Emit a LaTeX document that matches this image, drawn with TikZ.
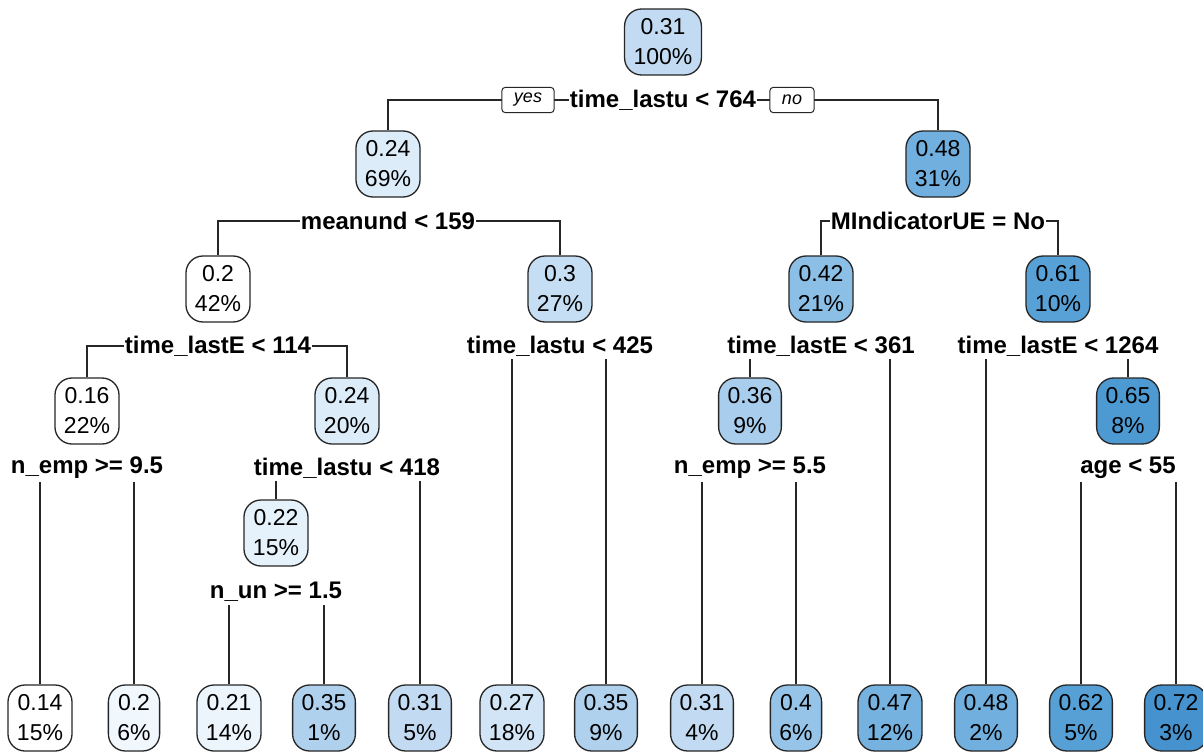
\documentclass[tikz,border=0pt]{standalone}
\usepackage{fontspec}
\setmainfont{Liberation Sans}
\usepackage{xcolor}
\usepackage{tikz}
\usetikzlibrary{backgrounds}
\definecolor{v14}{HTML}{FFFFFF}
\definecolor{v20}{HTML}{F0F7FD}
\definecolor{v21}{HTML}{ECF5FC}
\definecolor{v22}{HTML}{E6F2FB}
\definecolor{v24}{HTML}{DCECF9}
\definecolor{v27}{HTML}{D2E5F6}
\definecolor{v30}{HTML}{C6DEF3}
\definecolor{v31}{HTML}{C2DBF2}
\definecolor{v35}{HTML}{B0D1EE}
\definecolor{v36}{HTML}{A9CDEC}
\definecolor{v40}{HTML}{96C4E8}
\definecolor{v42}{HTML}{8CBFE6}
\definecolor{v47}{HTML}{75B2E0}
\definecolor{v48}{HTML}{71AFDF}
\definecolor{v61}{HTML}{58A1D7}
\definecolor{v62}{HTML}{56A0D6}
\definecolor{v65}{HTML}{4D9AD3}
\definecolor{v72}{HTML}{4592CE}
\tikzset{
  box/.style={draw=black!85, line width=1.3pt, fill=#1, rounded corners=17pt,
    minimum height=66pt, inner xsep=9pt, align=center,
    font=\fontsize{23}{30}\selectfont},
  split/.style={fill=white, inner xsep=1pt, inner ysep=3pt,
    font=\bfseries\fontsize{24}{28}\selectfont},
  answer/.style={draw=black!85, line width=1pt, fill=white, rounded corners=3pt,
    inner xsep=12pt, minimum height=25pt, font=\itshape\fontsize{18}{20}\selectfont},
  edge/.style={draw=black!85, line width=1.3pt}
}
\begin{document}
\begin{tikzpicture}[x=1pt,y=-1pt]
  \useasboundingbox (0,0) rectangle (1203,752);

  % inner nodes
  \node[box=v31] (root) at (663,42) {0.31\\100\%};
  \node[box=v24] (n2) at (388,164) {0.24\\69\%};
  \node[box=v48] (n3) at (938,164) {0.48\\31\%};
  \node[box=v14] (n4) at (218,289) {0.2\\42\%};
  \node[box=v30] (n5) at (560,289) {0.3\\27\%};
  \node[box=v42] (n6) at (821,289) {0.42\\21\%};
  \node[box=v61] (n7) at (1058,289) {0.61\\10\%};
  \node[box=v14] (n8) at (87,411) {0.16\\22\%};
  \node[box=v24] (n9) at (347,411) {0.24\\20\%};
  \node[box=v36] (n13) at (750,411) {0.36\\9\%};
  \node[box=v65] (n15) at (1128,411) {0.65\\8\%};
  \node[box=v22] (n18) at (276,533) {0.22\\15\%};

  % leaves
  \node[box=v14] (l1) at (40,718) {0.14\\15\%};
  \node[box=v20] (l2) at (134,718) {0.2\\6\%};
  \node[box=v21] (l3) at (229,718) {0.21\\14\%};
  \node[box=v35] (l4) at (324,718) {0.35\\1\%};
  \node[box=v31] (l5) at (420,718) {0.31\\5\%};
  \node[box=v27] (l6) at (512,718) {0.27\\18\%};
  \node[box=v35] (l7) at (606,718) {0.35\\9\%};
  \node[box=v31] (l8) at (702,718) {0.31\\4\%};
  \node[box=v40] (l9) at (796,718) {0.4\\6\%};
  \node[box=v47] (l10) at (890,718) {0.47\\12\%};
  \node[box=v48] (l11) at (986,718) {0.48\\2\%};
  \node[box=v62] (l12) at (1081,718) {0.62\\5\%};
  \node[box=v72] (l13) at (1176,718) {0.72\\3\%};

  % split labels
  \node[split] (s0) at (663,100) {time\_lastu < 764};
  \node[answer] (yes) at (528,100) {yes};
  \node[answer] (no) at (792,100) {no};
  \node[split] (s2) at (388,221) {meanund < 159};
  \node[split] (s3) at (938,221) {MIndicatorUE = No};
  \node[split] (s4) at (218,346) {time\_lastE < 114};
  \node[split] (s5) at (560,346) {time\_lastu < 425};
  \node[split] (s6) at (821,346) {time\_lastE < 361};
  \node[split] (s7) at (1058,346) {time\_lastE < 1264};
  \node[split] (s8) at (87,468) {n\_emp >= 9.5};
  \node[split] (s9) at (347,468) {time\_lastu < 418};
  \node[split] (s13) at (750,468) {n\_emp >= 5.5};
  \node[split] (s15) at (1128,468) {age < 55};
  \node[split] (s18) at (276,592) {n\_un >= 1.5};

  \begin{scope}[on background layer]
    \fill[white] (0,0) rectangle (1203,752);
    \draw[edge] (n2.north) |- (s0.center) -| (n3.north);
    \draw[edge] (n4.north) |- (s2.center) -| (n5.north);
    \draw[edge] (n6.north) |- (s3.center) -| (n7.north);
    \draw[edge] (n8.north) |- (s4.center) -| (n9.north);
    \draw[edge] (l6.north) |- (s5.center) -| (l7.north);
    \draw[edge] (n13.north) |- (s6.center) -| (l10.north);
    \draw[edge] (l11.north) |- (s7.center) -| (n15.north);
    \draw[edge] (l1.north) |- (s8.center) -| (l2.north);
    \draw[edge] (n18.north) |- (s9.center) -| (l5.north);
    \draw[edge] (l8.north) |- (s13.center) -| (l9.north);
    \draw[edge] (l12.north) |- (s15.center) -| (l13.north);
    \draw[edge] (l3.north) |- (s18.center) -| (l4.north);
  \end{scope}
\end{tikzpicture}
\end{document}
